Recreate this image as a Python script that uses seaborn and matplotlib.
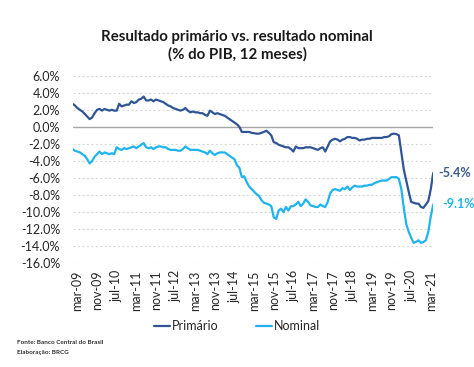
import numpy as np
import pandas as pd
import seaborn as sns
import matplotlib.pyplot as plt

# monthly, jan-09 .. apr-21 (% of GDP, 12-month)
primario = [
    2.7, 2.5, 2.2, 2.0, 1.8, 1.5, 1.2, 0.9, 1.1, 1.6, 2.0, 2.1,
    1.9, 2.1, 2.0, 1.9, 2.0, 1.9, 1.9, 2.7, 2.4, 2.5, 2.6, 2.6,
    3.0, 2.8, 2.9, 3.2, 3.3, 3.55, 3.1, 3.1, 3.2, 3.0, 3.2, 3.1,
    3.0, 2.9, 2.7, 2.5, 2.4, 2.2, 2.1, 2.0, 1.9, 2.0, 2.2, 1.9,
    1.7, 1.8, 1.7, 1.7, 1.6, 1.6, 1.4, 1.3, 1.9, 1.7, 1.5, 1.6,
    1.5, 1.4, 1.3, 1.1, 0.9, 0.7, 0.5, 0.3, 0.0, -0.6, -0.6, -0.6,
    -0.6, -0.7, -0.75, -0.8, -0.8, -0.7, -0.6, -0.45, -0.7, -1.0, -1.8, -1.9,
    -2.1, -2.2, -2.3, -2.4, -2.4, -2.6, -2.9, -2.3, -2.5, -2.5, -2.5, -2.4,
    -2.4, -2.4, -2.5, -2.6, -2.7, -2.5, -2.4, -2.9, -2.3, -1.7, -1.5, -1.4,
    -1.5, -1.7, -1.5, -1.4, -1.2, -1.2, -1.3, -1.3, -1.4, -1.6, -1.5, -1.5,
    -1.4, -1.4, -1.3, -1.3, -1.3, -1.3, -1.3, -1.2, -1.2, -1.1, -0.85, -0.8,
    -0.85, -1.0, -3.0, -5.0, -6.3, -7.6, -8.8, -8.9, -9.0, -9.0, -9.4, -9.5,
    -9.1, -8.7, -7.3, -5.4,
]
nominal = [
    -2.6, -2.8, -2.9, -3.0, -3.2, -3.4, -3.8, -4.3, -4.0, -3.5, -3.2, -2.9,
    -3.2, -3.0, -3.1, -3.2, -3.1, -3.2, -2.4, -2.6, -2.7, -2.5, -2.6, -2.5,
    -2.4, -2.3, -2.5, -2.3, -2.1, -1.9, -2.4, -2.5, -2.4, -2.6, -2.4, -2.3,
    -2.3, -2.4, -2.4, -2.6, -2.7, -2.7, -2.7, -2.8, -2.8, -2.6, -2.3, -2.5,
    -2.7, -2.7, -2.7, -2.7, -2.8, -2.9, -3.0, -3.2, -2.8, -3.1, -3.3, -3.1,
    -3.0, -3.0, -3.0, -3.2, -3.4, -3.6, -3.8, -4.5, -4.8, -5.9, -5.8, -6.5,
    -7.0, -7.3, -7.6, -7.9, -8.1, -8.6, -8.9, -9.0, -9.1, -9.3, -10.6, -10.8,
    -9.8, -9.6, -10.0, -9.4, -9.8, -9.3, -9.3, -9.1, -8.8, -9.3, -9.0, -8.5,
    -8.8, -9.2, -9.3, -9.4, -9.4, -9.1, -9.3, -9.4, -8.8, -7.8, -7.4, -7.3,
    -7.4, -7.5, -7.2, -7.3, -7.0, -7.4, -7.1, -6.9, -7.0, -7.0, -7.0, -6.9,
    -6.9, -6.8, -6.8, -6.6, -6.5, -6.4, -6.3, -6.3, -6.3, -6.1, -5.9, -5.9,
    -5.9, -6.1, -7.3, -9.5, -11.4, -12.3, -13.0, -13.6, -13.5, -13.3, -13.6, -13.5,
    -13.3, -12.3, -10.5, -9.1,
]
meses = ["jan", "fev", "mar", "abr", "mai", "jun", "jul", "ago", "set", "out", "nov", "dez"]
datas = pd.date_range("2009-01-01", periods=len(primario), freq="MS")
rotulos = [f"{meses[d.month - 1]}-{d.strftime('%y')}" for d in datas]

C_PRIM = "#2F5597"
C_NOM = "#1FB4EE"

df = pd.DataFrame({
    "mes": np.concatenate([np.arange(len(primario)), np.arange(len(nominal))]),
    "valor": primario + nominal,
    "serie": ["Primário"] * len(primario) + ["Nominal"] * len(nominal),
})

sns.set_style("white")
plt.rcParams["font.family"] = ["Lato", "DejaVu Sans"]

fig = plt.figure(figsize=(4.74, 3.67), dpi=100)
ax = fig.add_axes([0.153, 0.2826, 0.761, 0.5112])

ax.set_yticks(np.arange(-16, 7, 2))
for v in np.arange(-16, 7, 2):
    if v == 0:
        ax.axhline(0, color="#A6A6A6", lw=1.0, zorder=1)
    else:
        ax.axhline(v, color="#D9D9D9", lw=0.8, ls=(0, (2, 2)), zorder=1)

sns.lineplot(data=df, x="mes", y="valor", hue="serie",
             palette={"Primário": C_PRIM, "Nominal": C_NOM},
             linewidth=1.6, ax=ax, legend=False, zorder=3)

ax.set_xlim(0, len(primario) - 1)
ax.set_ylim(-16, 6)
ticks = list(range(2, len(primario), 8))
ax.set_xticks(ticks)
ax.set_xticklabels([rotulos[i] for i in ticks], rotation=90, fontsize=9, color="#262626")
ax.set_yticklabels([f"{v:.1f}%" for v in np.arange(-16, 7, 2)], fontsize=9, color="#262626")
ax.tick_params(axis="y", length=0, pad=9)
ax.tick_params(axis="x", length=0, pad=5)
ax.set_xlabel("")
ax.set_ylabel("")
sns.despine(ax=ax, left=True, bottom=True)

ax.text(len(primario) + 1.2, primario[-1], f"{primario[-1]:.1f}%", color="#3B5B8F",
        fontsize=9, fontweight="bold", va="center", ha="left", clip_on=False)
ax.text(len(nominal) + 2.5, nominal[-1], f"{nominal[-1]:.1f}%", color=C_NOM,
        fontsize=9, fontweight="bold", va="center", ha="left", clip_on=False)

fig.text(0.5, 0.875, "Resultado primário vs. resultado nominal\n(% do PIB, 12 meses)",
         ha="center", va="center", fontsize=10.8, fontweight="bold", color="#1A1A1A",
         linespacing=1.25)

handles = [plt.Line2D([], [], color=C_PRIM, lw=1.6), plt.Line2D([], [], color=C_NOM, lw=1.6)]
fig.legend(handles, ["Primário", "Nominal"], loc="center", bbox_to_anchor=(0.5, 0.112),
           ncol=2, frameon=False, fontsize=9, handlelength=1.3, handletextpad=0.15,
           columnspacing=3.0)

fig.text(0.036, 0.066, "Fonte: Banco Central do Brasil", fontsize=4.6, fontweight="bold",
         color="#333333", va="center")
fig.text(0.036, 0.040, "Elaboração: BRCG", fontsize=4.6, fontweight="bold",
         color="#333333", va="center")

fig.savefig("out.png", dpi=100)
